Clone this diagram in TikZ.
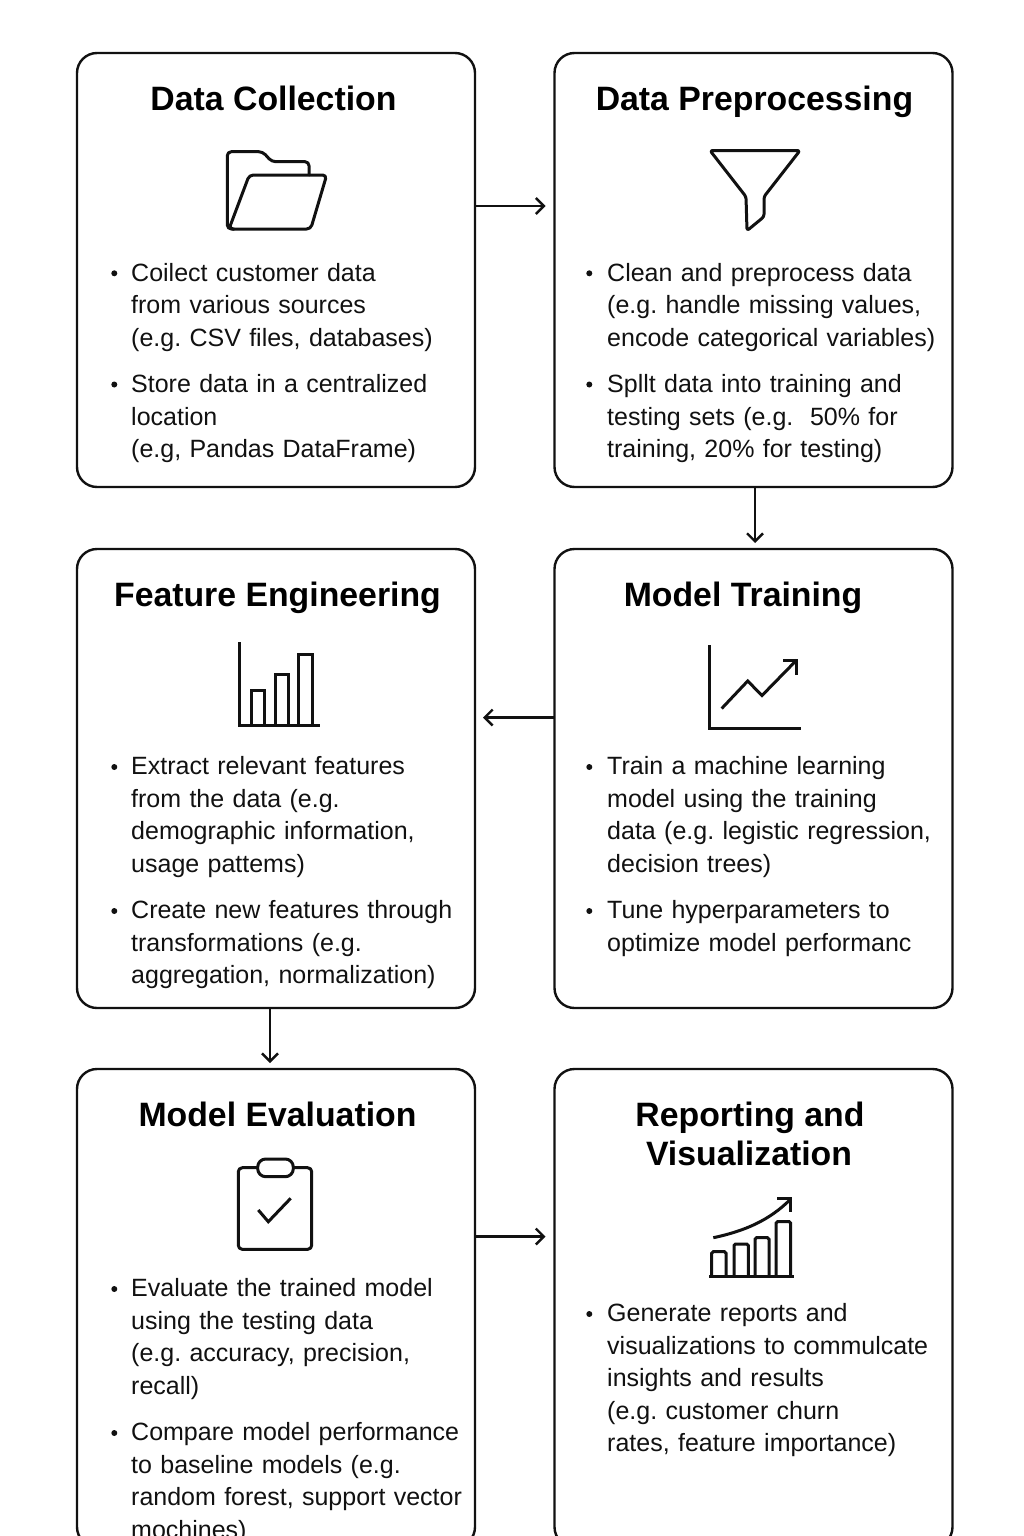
\documentclass[tikz,border=0pt]{standalone}
\usepackage{fontspec}
\setmainfont{Liberation Sans}
\newfontfamily\bodyface{Liberation Sans}
\newfontfamily\titleface{Liberation Sans Bold}
\usetikzlibrary{arrows.meta}
\definecolor{ink}{HTML}{111111}
\tikzset{
  card/.style={draw=ink,line width=2.4pt,rounded corners=20pt,minimum width=398pt,outer sep=0pt,inner sep=0pt,fill=white},
  cardtitle/.style={anchor=base,inner sep=0pt,text=black,font=\titleface\fontsize{33.8}{39}\selectfont,align=center},
  bodytxt/.style={anchor=north west,inner sep=0pt,text=ink,font=\bodyface\frenchspacing\fontsize{25}{32.5}\selectfont,align=left,text width=345pt},
  dotmark/.style={circle,fill=ink,inner sep=0pt,minimum size=6pt},
  icon/.style={draw=ink,line width=3pt,line join=round,line cap=round},
  iconb/.style={draw=ink,line width=3pt,line join=miter},
  conn/.style={draw=ink,line width=2.4pt,-{Straight Barb[length=8pt,width=16pt,line width=2.4pt]}},
}
\begin{document}
\begin{tikzpicture}[x=1pt,y=-1pt]
\useasboundingbox (0,0) rectangle (1024,1536);
\clip (0,0) rectangle (1024,1536);
\fill[white] (0,0) rectangle (1024,1536);
% cards
\node[card,minimum height=434pt] (collect) at (276,270) {};
\node[card,minimum height=434pt] (prep) at (753.5,270) {};
\node[card,minimum height=459pt] (feat) at (276,778.5) {};
\node[card,minimum height=459pt] (train) at (753.5,778.5) {};
\node[card,minimum height=478pt] (evalu) at (276,1308) {};
\node[card,minimum height=478pt] (report) at (753.5,1308) {};
% connectors
\coordinate (r1) at (0,206);
\coordinate (r2) at (755,0);
\coordinate (r3) at (0,717.5);
\coordinate (r4) at (270,0);
\coordinate (r5) at (0,1236.5);
\draw[conn,shorten >=9pt] (collect.east |- r1) -- (prep.west |- r1);
\draw[conn,shorten >=6pt] (r2 |- prep.south) -- (r2 |- train.north);
\draw[conn,shorten >=8pt] (train.west |- r3) -- (feat.east |- r3);
\draw[conn,shorten >=6pt] (r4 |- feat.south) -- (r4 |- evalu.north);
\draw[conn,shorten >=9pt] (evalu.east |- r5) -- (report.west |- r5);
% titles
\node[cardtitle] (t1) at (273.5,110.7) {Data Collection};
\node[cardtitle] (t2) at (754.5,110.7) {Data Preprocessing};
\node[cardtitle] (t3) at (277.5,606.5) {Feature Engineering};
\node[cardtitle] (t4) at (743,606.5) {Model Training};
\node[cardtitle] (t5) at (277.5,1126) {Model Evaluation};
\node[cardtitle] (t6a) at (750,1126) {Reporting and};
\node[cardtitle] (t6b) at (749,1165.5) {Visualization};
% body text
\node[dotmark] (b1a) at (114.3,273.3) {};
\node[bodytxt] (x1a) at (131,258.5) {\strut Coilect customer data\\from various sources\\(e.g. CSV files, databases)};
\node[dotmark] (b1b) at (114.3,384.5) {};
\node[bodytxt] (x1b) at (131,370) {\strut Store data in a centralized\\location\\(e.g, Pandas DataFrame)};
\node[dotmark] (b2a) at (589.3,273.3) {};
\node[bodytxt] (x2a) at (607,258.5) {\strut Clean and preprocess data\\(e.g. handle missing values,\\encode categorical variables)};
\node[dotmark] (b2b) at (589.3,384.5) {};
\node[bodytxt] (x2b) at (607,370) {\strut Spllt data into training and\\testing sets (e.g.\ \ 50\% for\\training, 20\% for testing)};
\node[dotmark] (b3a) at (114.3,767) {};
\node[bodytxt] (x3a) at (131,752) {\strut Extract relevant features\\from the data (e.g.\\demographic information,\\usage pattems)};
\node[dotmark] (b3b) at (114.3,911) {};
\node[bodytxt] (x3b) at (131,896) {\strut Create new features through\\transformations (e.g.\\aggregation, normalization)};
\node[dotmark] (b4a) at (589.3,767) {};
\node[bodytxt] (x4a) at (607,752) {\strut Train a machine learning\\model using the training\\data (e.g. legistic regression,\\decision trees)};
\node[dotmark] (b4b) at (589.3,911) {};
\node[bodytxt] (x4b) at (607,896) {\strut Tune hyperparameters to\\optimize model performanc};
\node[dotmark] (b5a) at (114.3,1289) {};
\node[bodytxt] (x5a) at (131,1274) {\strut Evaluate the trained model\\using the testing data\\(e.g. accuracy, precision,\\recall)};
\node[dotmark] (b5b) at (114.3,1433) {};
\node[bodytxt] (x5b) at (131,1418) {\strut Compare model performance\\to baseline models (e.g.\\random forest, support vector\\mochines)};
\node[dotmark] (b6a) at (589.3,1314) {};
\node[bodytxt] (x6a) at (607,1299) {\strut Generate reports and\\visualizations to commulcate\\insights and results\\(e.g. customer churn\\rates, feature importance)};
% folder icon
\draw[icon,rounded corners=4pt] (309,175) -- (309,161.7) -- (271.7,161.7) -- (262.7,151.7) -- (227.3,151.7) -- (227.3,229) -- (234,229);
\draw[icon,rounded corners=4pt] (249.3,175) -- (326.7,175) -- (310.7,229) -- (229,229) -- cycle;
% funnel icon
\draw[icon,rounded corners=2.5pt] (710,150.5) -- (800,150.5) -- (764,196.7) -- (764,216.7) -- (747,230.7) -- (746,196.7) -- cycle;
% feature chart icon
\draw[iconb] (239,642) -- (239,725) -- (320,725);
\draw[iconb] (251.3,725) -- (251.3,690) -- (264.7,690) -- (264.7,725);
\draw[iconb] (275,725) -- (275,674) -- (288.3,674) -- (288.3,725);
\draw[iconb] (298.3,725) -- (298.3,654) -- (312,654) -- (312,725);
% training chart icon
\draw[iconb] (709,645) -- (709,728) -- (801,728);
\draw[iconb] (721.7,708.5) -- (747.7,681) -- (762,695.5) -- (796.7,660);
\draw[iconb] (783,660) -- (796.7,660) -- (796.7,674.5);
% clipboard icon
\draw[icon,rounded corners=4pt] (257.7,1167.7) -- (238.3,1167.7) -- (238.3,1249.3) -- (311.7,1249.3) -- (311.7,1167.7) -- (293.3,1167.7);
\draw[icon,rounded corners=8pt] (257.7,1159) rectangle (293.3,1176.7);
\draw[iconb] (258.3,1210) -- (268.3,1221.7) -- (290.7,1198.3);
% reporting icon
\draw[iconb] (709.3,1276.2) -- (794,1276.2);
\draw[iconb,rounded corners=1.5pt] (711.7,1276) -- (711.7,1251.7) -- (726,1251.7) -- (726,1276);
\draw[iconb,rounded corners=1.5pt] (734,1276) -- (734,1244) -- (748.3,1244) -- (748.3,1276);
\draw[iconb,rounded corners=1.5pt] (755,1276) -- (755,1237.7) -- (769,1237.7) -- (769,1276);
\draw[iconb,rounded corners=1.5pt] (776,1276) -- (776,1221.7) -- (790.7,1221.7) -- (790.7,1276);
\draw[iconb] (713.3,1237.7) .. controls (745,1231) and (770,1220) .. (790.7,1199);
\draw[iconb] (777.3,1198.5) -- (790.7,1198.5) -- (790.7,1211.7);
\end{tikzpicture}
\end{document}
